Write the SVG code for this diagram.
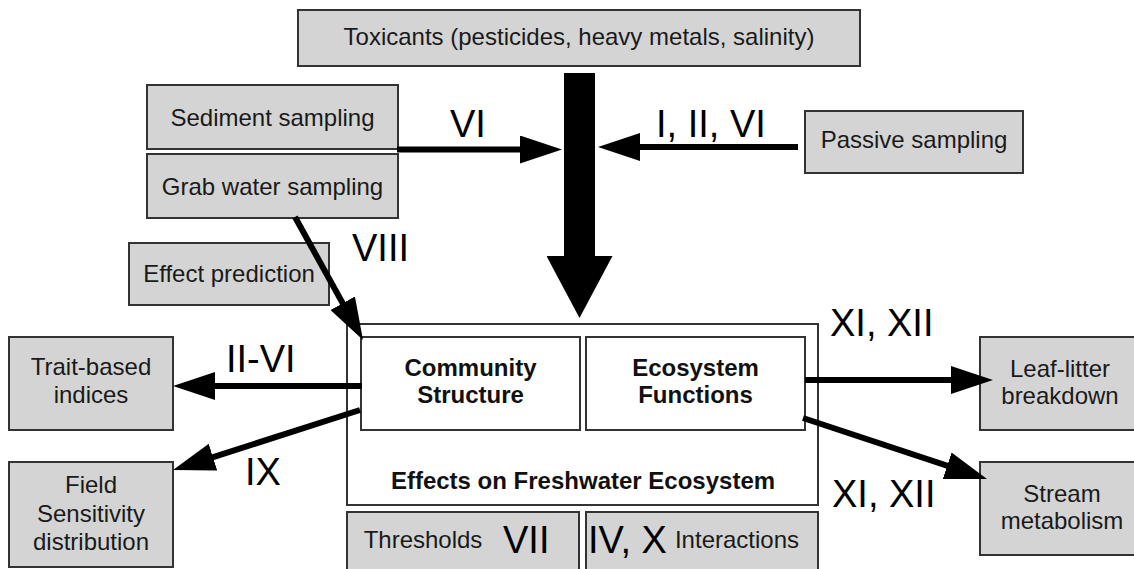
<svg xmlns="http://www.w3.org/2000/svg" width="1134" height="569" viewBox="0 0 1134 569">
<style>
  .box { fill: #d4d4d4; stroke: #333; stroke-width: 2; }
  .wbox { fill: #fff; stroke: #333; stroke-width: 2; }
  .t { font-family: "Liberation Sans", Arial, Helvetica, sans-serif; font-size: 24px; fill: #1a1a1a; text-anchor: middle; }
  .b { font-family: "Liberation Sans", Arial, Helvetica, sans-serif; font-size: 24px; font-weight: bold; fill: #111; text-anchor: middle; }
  .r { font-family: "Liberation Sans", Arial, Helvetica, sans-serif; font-size: 38px; fill: #000; }
  .arr { stroke: #000; stroke-width: 6; fill: none; marker-end: url(#ah); }
</style>
<defs>
  <marker id="ah" markerUnits="userSpaceOnUse" viewBox="0 0 42 28" markerWidth="42" markerHeight="28" refX="30" refY="14" orient="auto">
    <path d="M0,0 L42,14 L0,28 Z" fill="#000"/>
  </marker>
  <marker id="big" markerUnits="userSpaceOnUse" viewBox="0 0 62 66" markerWidth="62" markerHeight="66" refX="14" refY="33" orient="auto">
    <path d="M0,0 L62,33 L0,66 Z" fill="#000"/>
  </marker>
</defs>

<g id="effects">
  <rect class="wbox" x="347" y="324" width="471" height="181"/>
  <text class="b" x="583" y="489">Effects on Freshwater Ecosystem</text>
</g>
<g id="community">
  <rect class="wbox" x="361" y="337" width="219" height="93"/>
  <text class="b" x="470.5" y="376">Community</text>
  <text class="b" x="470.5" y="403">Structure</text>
</g>
<g id="ecosystem">
  <rect class="wbox" x="586" y="337" width="219" height="93"/>
  <text class="b" x="695.5" y="376">Ecosystem</text>
  <text class="b" x="695.5" y="403">Functions</text>
</g>

<g id="toxicants">
  <rect class="box" x="298" y="10" width="562" height="56"/>
  <text class="t" x="579" y="45">Toxicants (pesticides, heavy metals, salinity)</text>
</g>
<g id="sediment">
  <rect class="box" x="147" y="85" width="251" height="64"/>
  <text class="t" x="272.5" y="126">Sediment sampling</text>
</g>
<g id="grab">
  <rect class="box" x="147" y="154" width="251" height="64"/>
  <text class="t" x="272.5" y="195">Grab water sampling</text>
</g>
<g id="passive">
  <rect class="box" x="805" y="111" width="218" height="62"/>
  <text class="t" x="914" y="148">Passive sampling</text>
</g>
<g id="effect-prediction">
  <rect class="box" x="129" y="243" width="200" height="62"/>
  <text class="t" x="229" y="282">Effect prediction</text>
</g>
<g id="trait">
  <rect class="box" x="9" y="337" width="164" height="93"/>
  <text class="t" x="91" y="375">Trait-based</text>
  <text class="t" x="91" y="403">indices</text>
</g>
<g id="field">
  <rect class="box" x="9" y="462" width="164" height="105"/>
  <text class="t" x="91" y="493">Field</text>
  <text class="t" x="91" y="522">Sensitivity</text>
  <text class="t" x="91" y="550">distribution</text>
</g>
<g id="leaf">
  <rect class="box" x="980" y="337" width="164" height="93"/>
  <text class="t" x="1060" y="377">Leaf-litter</text>
  <text class="t" x="1060" y="404">breakdown</text>
</g>
<g id="stream">
  <rect class="box" x="980" y="462" width="164" height="93"/>
  <text class="t" x="1062" y="502">Stream</text>
  <text class="t" x="1062" y="529">metabolism</text>
</g>
<g id="thresholds">
  <rect class="box" x="347" y="512" width="232" height="70"/>
  <text class="t" x="423" y="548">Thresholds</text>
  <text class="r" x="503" y="553" font-size="40">VII</text>
</g>
<g id="interactions">
  <rect class="box" x="586" y="512" width="232" height="70"/>
  <text class="r" x="588" y="553" font-size="40">IV, X</text>
  <text class="t" x="737" y="548">Interactions</text>
</g>

<g id="connectors">
  <line x1="579.5" y1="73" x2="579.5" y2="270" stroke="#000" stroke-width="31" marker-end="url(#big)"/>
  <line class="arr" x1="397" y1="149.5" x2="550" y2="149.5"/>
  <line class="arr" x1="798" y1="147" x2="610" y2="147"/>
  <line class="arr" x1="295" y1="217" x2="357.2" y2="329.5"/>
  <line class="arr" x1="362" y1="386" x2="185" y2="386"/>
  <line class="arr" x1="360" y1="410" x2="184.4" y2="466.3"/>
  <line class="arr" x1="805" y1="380" x2="981" y2="380"/>
  <line class="arr" x1="803" y1="418" x2="975.6" y2="475.2"/>
  <text class="r" x="450" y="137">VI</text>
  <text class="r" x="656" y="137">I, II, VI</text>
  <text class="r" x="352" y="261">VIII</text>
  <text class="r" x="226" y="372">II-VI</text>
  <text class="r" x="245" y="485">IX</text>
  <text class="r" x="830" y="336">XI, XII</text>
  <text class="r" x="832" y="507">XI, XII</text>
</g>
</svg>
